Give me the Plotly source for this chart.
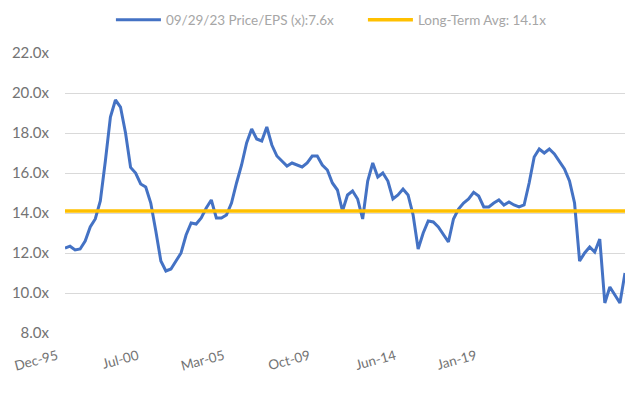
import plotly.graph_objects as go

# Quarterly Price/EPS readings, Dec-95 .. Sep-23 (index positions along the category axis)
pe_values = [
    12.24, 12.34, 12.15, 12.2, 12.6, 13.3, 13.7, 14.6, 16.6, 18.8,
    19.65, 19.3, 18.0, 16.28, 16.0, 15.45, 15.3, 14.5, 13.1, 11.6,
    11.1, 11.2, 11.6, 12.0, 12.9, 13.5, 13.45, 13.75, 14.25, 14.65,
    13.75, 13.75, 13.9, 14.5, 15.5, 16.4, 17.5, 18.2, 17.7, 17.6,
    18.3, 17.4, 16.85, 16.6, 16.35, 16.5, 16.4, 16.3, 16.5, 16.85,
    16.85, 16.4, 16.15, 15.5, 15.15, 14.1, 14.9, 15.1, 14.7, 13.7,
    15.6, 16.5, 15.8, 16.0, 15.6, 14.7, 14.9, 15.2, 14.9, 13.9,
    12.2, 13.0, 13.6, 13.55, 13.3, 12.9, 12.55, 13.7, 14.2, 14.5,
    14.7, 15.03, 14.85, 14.3, 14.3, 14.5, 14.65, 14.4, 14.55, 14.4,
    14.3, 14.4, 15.5, 16.8, 17.2, 17.0, 17.2, 16.95, 16.6, 16.2,
    15.6, 14.5, 11.6, 12.0, 12.3, 12.05, 12.7, 9.5, 10.3, 9.9,
    9.5, 11.0,
]
long_term_avg = 14.1
series_names = ["09/29/23 Price/EPS (x):7.6x", "Long-Term Avg: 14.1x"]
tick_labels = ["Dec-95", "Jul-00", "Mar-05", "Oct-09", "Jun-14", "Jan-19"]
tick_index = [0, 16, 33, 50, 67, 83]
y_ticks = [8, 10, 12, 14, 16, 18, 20, 22]

x_idx = list(range(len(pe_values)))
avg_values = [long_term_avg] * len(pe_values)

FONT = "Lato, 'Open Sans', sans-serif"
GRAY = "#737373"

fig = go.Figure()
fig.add_trace(go.Scatter(
    x=x_idx, y=pe_values, mode="lines", name=series_names[0],
    line=dict(color="#4472C4", width=3),
))
fig.add_trace(go.Scatter(
    x=x_idx, y=avg_values, mode="lines", name=series_names[1],
    line=dict(color="#FFC000", width=3.5),
))

# the page body adds an 8px offset, so margins are shifted accordingly
fig.update_layout(
    width=640, height=395,
    margin=dict(l=57, r=23, t=45, b=70, autoexpand=False),
    paper_bgcolor="white", plot_bgcolor="white",
    font=dict(family=FONT, color=GRAY, size=12),
    showlegend=True,
    legend=dict(
        orientation="h", x=0.082, xanchor="left",
        yref="container", y=0.97, yanchor="middle",
        font=dict(size=13.5, color="#a6a6a6"), itemwidth=45,
        entrywidth=192, entrywidthmode="pixels",
        traceorder="normal",
    ),
    xaxis=dict(
        range=[0, len(pe_values) - 1],
        tickmode="array", tickvals=tick_index, ticktext=tick_labels,
        tickangle=-15, showgrid=False, zeroline=False, showline=False,
        ticks="", tickfont=dict(size=13.5, color=GRAY),
        ticklabelshift=-8, ticklabelstandoff=12, automargin=False,
    ),
    yaxis=dict(
        range=[8, 22], tickmode="array", tickvals=y_ticks,
        ticktext=[f"{v:.1f}x" for v in y_ticks],
        showgrid=True, gridcolor="#d9d9d9", gridwidth=1,
        zeroline=False, showline=False, ticks="",
        tickfont=dict(size=15, color=GRAY), ticklabelstandoff=15,
        automargin=False,
    ),
)

fig.write_html("out.html")
